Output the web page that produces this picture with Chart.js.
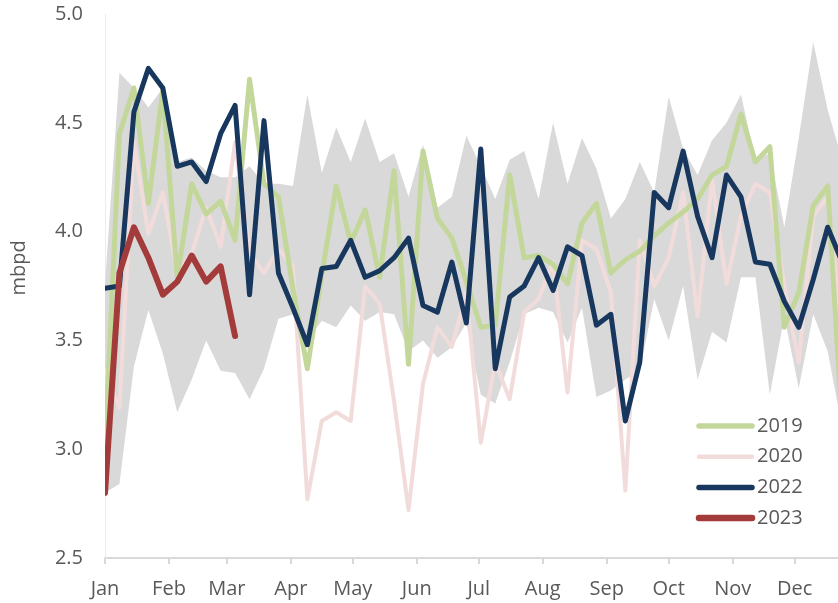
<!DOCTYPE html>
<html>
<head>
<meta charset="utf-8">
<title>mbpd weekly</title>
<script src="https://cdn.jsdelivr.net/npm/chart.js"></script>
<style>
  body { margin: 0; background: #fff; }
  #c { display: block; }
</style>
</head>
<body>
<canvas id="c" width="838" height="603"></canvas>
<script>
// weekly series, one value per week (week i sits at day i*7 of the year)
const monthLabels = ['Jan', 'Feb', 'Mar', 'Apr', 'May', 'Jun', 'Jul', 'Aug', 'Sep', 'Oct', 'Nov', 'Dec'];
const monthStartDays = [0, 31, 59, 90, 120, 151, 181, 212, 243, 273, 304, 334];

const rangeHigh = [3.76, 4.73, 4.66, 4.57, 4.66, 4.32, 4.34, 4.28, 4.25, 4.25, 4.30, 4.22, 4.22, 4.21, 4.63, 4.27,
  4.48, 4.32, 4.52, 4.32, 4.36, 4.16, 4.40, 4.11, 4.16, 4.44, 4.30, 4.15, 4.33, 4.37, 4.15, 4.50,
  4.22, 4.43, 4.29, 4.06, 4.15, 4.32, 4.18, 4.62, 4.38, 4.26, 4.42, 4.50, 4.63, 4.33, 4.36, 4.02,
  4.43, 4.87, 4.56, 4.33];
const rangeLow = [2.80, 2.84, 3.38, 3.64, 3.44, 3.17, 3.32, 3.50, 3.36, 3.35, 3.23, 3.37, 3.60, 3.62, 3.50, 3.59,
  3.56, 3.66, 3.59, 3.63, 3.62, 3.45, 3.50, 3.42, 3.47, 3.58, 3.25, 3.21, 3.40, 3.62, 3.65, 3.63,
  3.49, 3.65, 3.24, 3.27, 3.32, 3.36, 3.69, 3.50, 3.75, 3.32, 3.54, 3.49, 3.79, 3.79, 3.25, 3.61,
  3.28, 3.62, 3.45, 3.10];

const y2019 = [3.00, 4.45, 4.66, 4.13, 4.65, 3.79, 4.22, 4.08, 4.14, 3.96, 4.70, 4.22, 4.16, 3.74, 3.37, 3.80,
  4.21, 3.95, 4.10, 3.79, 4.28, 3.39, 4.37, 4.06, 3.97, 3.77, 3.56, 3.57, 4.26, 3.88, 3.89, 3.85,
  3.76, 4.04, 4.13, 3.81, 3.87, 3.91, 3.98, 4.04, 4.09, 4.15, 4.26, 4.30, 4.54, 4.32, 4.39, 3.56,
  3.72, 4.12, 4.21, 3.10];
const y2020 = [3.36, 3.19, 4.41, 3.99, 4.18, 3.81, 3.90, 4.11, 3.93, 4.41, 3.90, 3.81, 3.92, 3.84, 2.77, 3.13,
  3.17, 3.13, 3.75, 3.67, 3.22, 2.72, 3.30, 3.56, 3.47, 3.72, 3.03, 3.40, 3.23, 3.63, 3.69, 3.86,
  3.26, 3.96, 3.92, 3.72, 2.81, 3.96, 3.75, 3.88, 4.18, 3.61, 4.24, 3.76, 4.07, 4.22, 4.18, 3.75,
  3.40, 4.07, 4.16, 3.50];
const y2022 = [3.74, 3.75, 4.55, 4.75, 4.66, 4.30, 4.32, 4.23, 4.45, 4.58, 3.71, 4.51, 3.81, 3.65, 3.48, 3.83,
  3.84, 3.96, 3.79, 3.82, 3.88, 3.97, 3.66, 3.63, 3.86, 3.58, 4.38, 3.37, 3.70, 3.75, 3.88, 3.73,
  3.93, 3.89, 3.57, 3.62, 3.13, 3.40, 4.18, 4.11, 4.37, 4.07, 3.88, 4.26, 4.16, 3.86, 3.85, 3.68,
  3.56, 3.78, 4.02, 3.86];
const y2023 = [2.80, 3.81, 4.02, 3.88, 3.71, 3.77, 3.89, 3.77, 3.84, 3.52];

const toPoints = arr => arr.map((v, i) => ({ x: i * 7, y: v }));

const textGrey = '#595959';
const font = '"Open Sans", "Noto Sans", sans-serif';

function line(label, data, color, width) {
  return {
    label: label,
    data: toPoints(data),
    borderColor: color,
    backgroundColor: color,
    borderWidth: width,
    pointRadius: 0,
    tension: 0,
    fill: false,
    borderJoinStyle: 'round',
    borderCapStyle: 'round'
  };
}

// legend + axis title drawn by hand so they sit where the original has them
const extras = {
  id: 'extras',
  afterDraw(chart) {
    const ctx = chart.ctx;
    ctx.save();
    ctx.font = '20px ' + font;
    ctx.fillStyle = textGrey;
    ctx.textBaseline = 'middle';
    const order = ['2019', '2020', '2022', '2023'];
    order.forEach((lab, k) => {
      const ds = chart.data.datasets.find(d => d.label === lab);
      const y = 426 + k * 30.7;
      ctx.strokeStyle = ds.borderColor;
      ctx.lineWidth = ds.borderWidth + 0.5;
      ctx.lineCap = 'round';
      ctx.beginPath();
      ctx.moveTo(699, y);
      ctx.lineTo(752, y);
      ctx.stroke();
      ctx.textAlign = 'left';
      ctx.fillText(lab, 757, y);
    });
    ctx.translate(19, 268);
    ctx.rotate(-Math.PI / 2);
    ctx.textAlign = 'center';
    ctx.fillText('mbpd', 0, 0);
    ctx.restore();
  }
};

new Chart(document.getElementById('c'), {
  type: 'line',
  data: {
    datasets: [
      line('2023', y2023, '#a23b39', 6),
      line('2022', y2022, '#17375e', 5),
      line('2019', y2019, '#c4d79b', 5),
      line('2020', y2020, '#f2dcdb', 4),
      {
        label: 'high',
        data: toPoints(rangeHigh),
        borderWidth: 0,
        pointRadius: 0,
        tension: 0,
        backgroundColor: '#d9d9d9',
        fill: '+1'
      },
      {
        label: 'low',
        data: toPoints(rangeLow),
        borderWidth: 0,
        pointRadius: 0,
        tension: 0,
        fill: false
      }
    ]
  },
  options: {
    responsive: false,
    animation: false,
    devicePixelRatio: 1,
    layout: { padding: { top: 14, right: 0, left: 0, bottom: 0 } },
    plugins: {
      legend: { display: false },
      tooltip: { enabled: false }
    },
    scales: {
      x: {
        type: 'linear',
        min: 0,
        max: 355,
        afterBuildTicks: axis => { axis.ticks = monthStartDays.map(v => ({ value: v })); },
        afterFit: axis => { axis.height = 45; axis.paddingLeft = 0; axis.paddingRight = 0; },
        ticks: {
          autoSkip: false,
          maxRotation: 0,
          padding: 13,
          color: textGrey,
          font: { family: font, size: 20 },
          callback: v => monthLabels[monthStartDays.indexOf(v)]
        },
        grid: {
          display: true,
          drawOnChartArea: false,
          drawTicks: true,
          tickLength: 6,
          color: '#d9d9d9',
          lineWidth: 2
        },
        border: { display: true, color: '#d9d9d9', width: 2 }
      },
      y: {
        min: 2.5,
        max: 5.0,
        afterFit: axis => { axis.width = 105; axis.paddingTop = 0; axis.paddingBottom = 0; },
        ticks: {
          stepSize: 0.5,
          padding: 22,
          color: textGrey,
          font: { family: font, size: 20 },
          callback: v => v.toFixed(1)
        },
        grid: { display: false, drawTicks: false },
        border: { display: true, color: '#ececec', width: 1 }
      }
    }
  },
  plugins: [extras]
});
</script>
</body>
</html>
